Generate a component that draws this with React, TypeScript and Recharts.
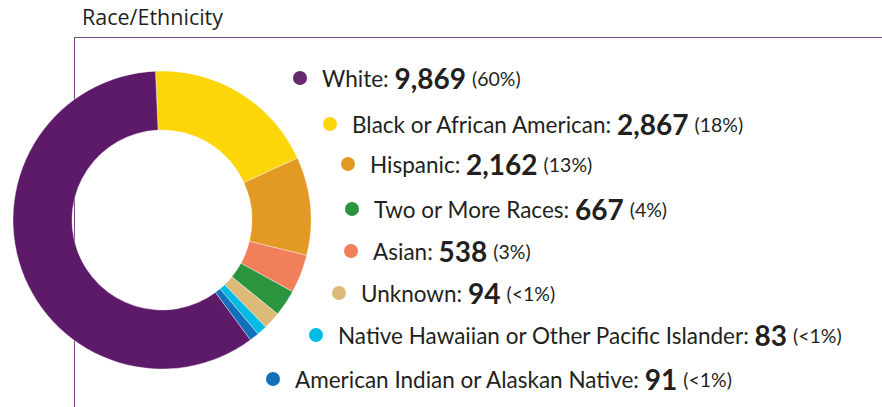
import { PieChart, Pie, Cell, Legend } from 'recharts';

const categories = [
  'Black or African American',
  'Hispanic',
  'Asian',
  'Two or More Races',
  'Unknown',
  'Native Hawaiian or Other Pacific Islander',
  'American Indian or Alaskan Native',
  'White',
];
const counts = [2867, 2162, 538, 667, 94, 83, 91, 9869];
const shares = ['18%', '13%', '3%', '4%', '<1%', '<1%', '<1%', '60%'];
const arcShares = [19.0, 10.7, 4.2, 2.9, 1.9, 1.1, 1.05, 59.8];
const colors = ['#fdd60a', '#e39a25', '#f07f5a', '#2b943e', '#dcbb78', '#00bbe4', '#1371bc', '#5c1a68'];
const legendOrder = [7, 0, 1, 3, 2, 4, 5, 6];

const data = categories.map((name, i) => ({ name, value: arcShares[i], count: counts[i] }));

// where each legend dot sits, following the ring
const rowPos = [
  [300, 78],
  [330, 124],
  [348, 164],
  [352, 209],
  [351, 251],
  [339, 293],
  [316, 335],
  [273, 379],
];

const ink = '#231f20';
const font = 'Lato, "Open Sans", sans-serif';

function LegendList() {
  return (
    <div style={{ position: 'relative', width: 882, height: 407 }}>
      {legendOrder.map((idx, row) => {
        const [x, y] = rowPos[row];
        return (
          <div
            key={categories[idx]}
            style={{
              position: 'absolute',
              left: x - 7,
              top: y - 20,
              height: 40,
              display: 'flex',
              alignItems: 'center',
              whiteSpace: 'nowrap',
              color: ink,
              fontFamily: font,
            }}
          >
            <span
              style={{
                width: 14,
                height: 14,
                borderRadius: 7,
                background: row === 0 ? '#68286e' : colors[idx],
                marginRight: 15,
                flex: 'none',
              }}
            />
            <span style={{ fontSize: 22.5 }}>{categories[idx]}:&nbsp;</span>
            <span style={{ fontSize: 28, fontWeight: 700 }}>{counts[idx].toLocaleString('en-US')}</span>
            <span style={{ fontSize: 19.5, marginLeft: 6 }}>({shares[idx]})</span>
          </div>
        );
      })}
    </div>
  );
}

export default function App() {
  return (
    <div style={{ position: 'relative', width: 882, height: 407, background: '#fff', overflow: 'hidden' }}>
      <style>{'body{margin:0}'}</style>
      <div
        style={{
          position: 'absolute',
          left: 82,
          top: 2,
          fontFamily: '"Open Sans", sans-serif',
          fontSize: 21.5,
          color: ink,
        }}
      >
        Race/Ethnicity
      </div>
      <div
        style={{
          position: 'absolute',
          left: 74,
          top: 37,
          width: 820,
          height: 420,
          borderTop: '1.5px solid #7b4f86',
          borderLeft: '1.5px solid #7b4f86',
        }}
      />
      <div style={{ position: 'absolute', left: 0, top: 0 }}>
        <PieChart width={882} height={407}>
          <Pie
            data={data}
            dataKey="value"
            nameKey="name"
            cx={157}
            cy={215}
            innerRadius={90}
            outerRadius={149}
            startAngle={92.5}
            endAngle={-267.5}
            stroke="#ffffff"
            strokeWidth={0.4}
            isAnimationActive={false}
          >
            {data.map((d, i) => (
              <Cell key={d.name} fill={colors[i]} />
            ))}
          </Pie>
          <Legend
            content={() => <LegendList />}
            wrapperStyle={{ position: 'absolute', left: 0, top: 0, width: 882, height: 407 }}
          />
        </PieChart>
      </div>
    </div>
  );
}
